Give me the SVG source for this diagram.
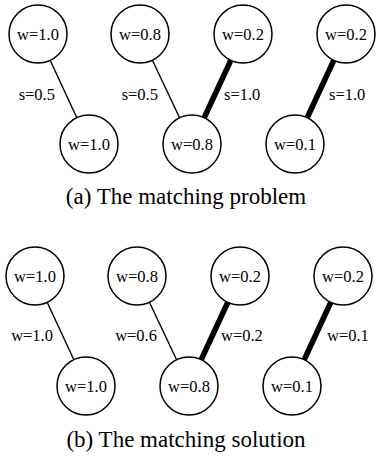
<svg xmlns="http://www.w3.org/2000/svg" width="376" height="456" viewBox="0 0 376 456">
<style>
.n circle{fill:#fff;stroke:#000;stroke-width:1.5}
text{font-family:"Liberation Serif","Times New Roman",serif;fill:#000}
.n text{font-size:16.5px;text-anchor:middle}
.lbl{font-size:16.5px}
.l{text-anchor:end}
.cap{font-size:23px;text-anchor:middle}
.thin{stroke:#000;stroke-width:1.4}
.thick{stroke:#000;stroke-width:5.5}
</style>
<rect width="376" height="456" fill="#fff"/>
<g id="connectors">
<line class="thin" x1="38" y1="34" x2="89" y2="144"/>
<line class="thin" x1="140" y1="34" x2="192" y2="144"/>
<line class="thick" x1="243" y1="34" x2="192" y2="144"/>
<line class="thick" x1="346" y1="34" x2="295" y2="144"/>
<line class="thin" x1="35" y1="276" x2="86" y2="386"/>
<line class="thin" x1="137" y1="276" x2="189" y2="386"/>
<line class="thick" x1="240" y1="276" x2="189" y2="386"/>
<line class="thick" x1="343" y1="276" x2="292" y2="386"/>
</g>
<g id="edge-labels">
<text class="lbl l" x="55" y="100">s=0.5</text>
<text class="lbl l" x="158" y="100">s=0.5</text>
<text class="lbl" x="224" y="100">s=1.0</text>
<text class="lbl" x="329" y="100">s=1.0</text>
<text class="lbl l" x="53" y="341">w=1.0</text>
<text class="lbl l" x="157" y="341">w=0.6</text>
<text class="lbl" x="221" y="341">w=0.2</text>
<text class="lbl" x="327" y="341">w=0.1</text>
</g>
<g id="a1" class="n"><circle cx="38" cy="34" r="29"/><text x="38" y="40">w=1.0</text></g>
<g id="a2" class="n"><circle cx="140" cy="34" r="29"/><text x="140" y="40">w=0.8</text></g>
<g id="a3" class="n"><circle cx="243" cy="34" r="29"/><text x="243" y="40">w=0.2</text></g>
<g id="a4" class="n"><circle cx="346" cy="34" r="29"/><text x="346" y="40">w=0.2</text></g>
<g id="a5" class="n"><circle cx="89" cy="144" r="29"/><text x="89" y="150">w=1.0</text></g>
<g id="a6" class="n"><circle cx="192" cy="144" r="29"/><text x="192" y="150">w=0.8</text></g>
<g id="a7" class="n"><circle cx="295" cy="144" r="29"/><text x="295" y="150">w=0.1</text></g>
<text class="cap" x="186" y="204">(a) The matching problem</text>
<g id="b1" class="n"><circle cx="35" cy="276" r="29"/><text x="35" y="282">w=1.0</text></g>
<g id="b2" class="n"><circle cx="137" cy="276" r="29"/><text x="137" y="282">w=0.8</text></g>
<g id="b3" class="n"><circle cx="240" cy="276" r="29"/><text x="240" y="282">w=0.2</text></g>
<g id="b4" class="n"><circle cx="343" cy="276" r="29"/><text x="343" y="282">w=0.2</text></g>
<g id="b5" class="n"><circle cx="86" cy="386" r="29"/><text x="86" y="392">w=1.0</text></g>
<g id="b6" class="n"><circle cx="189" cy="386" r="29"/><text x="189" y="392">w=0.8</text></g>
<g id="b7" class="n"><circle cx="292" cy="386" r="29"/><text x="292" y="392">w=0.1</text></g>
<text class="cap" x="186" y="447">(b) The matching solution</text>
</svg>
